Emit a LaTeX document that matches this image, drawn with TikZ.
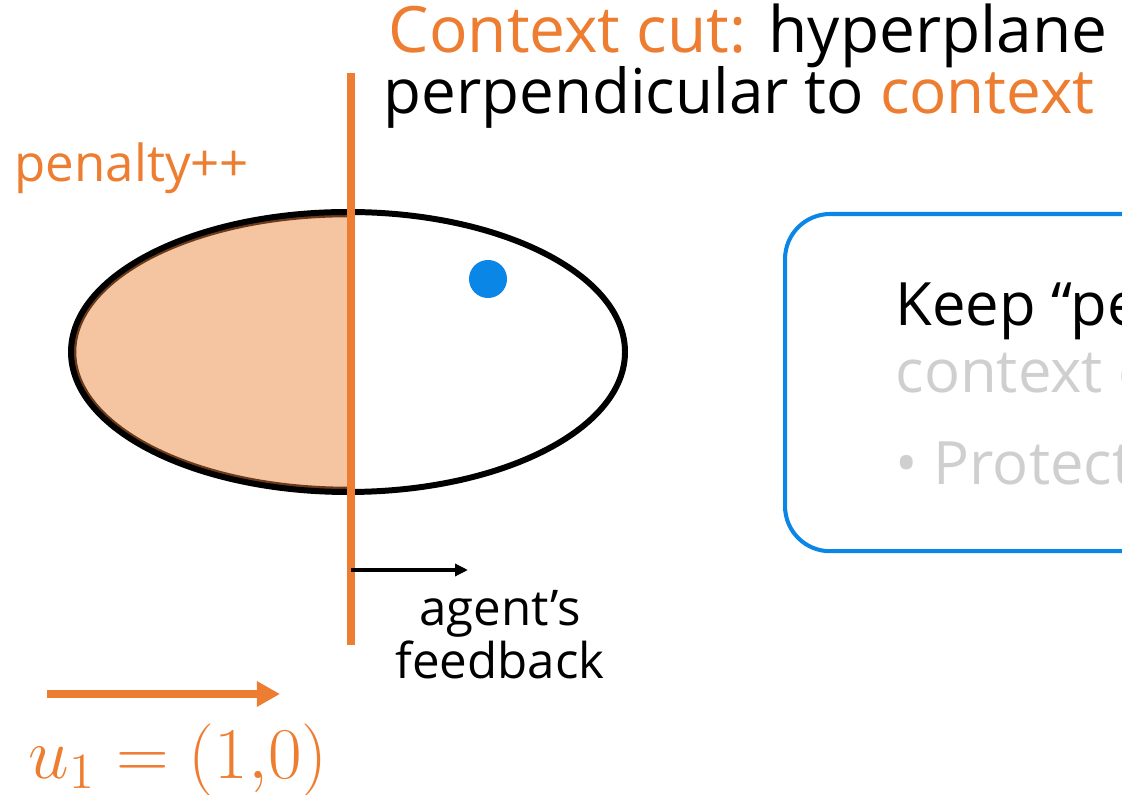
\documentclass[tikz,border=0pt]{standalone}
\usepackage{fontspec}
\setmainfont{Open Sans}
\usetikzlibrary{arrows.meta, positioning}
\definecolor{cutorange}{HTML}{ED7D31}
\definecolor{cutfill}{HTML}{F5C4A0}
\definecolor{cutbrown}{HTML}{6B3A1A}
\definecolor{dotblue}{HTML}{0A86E6}
\definecolor{fadegray}{HTML}{CFCFCF}
\tikzstyle{cutline} = [cutorange, line width=2.3pt]
\tikzstyle{region} = [black, line width=1.7pt]
\tikzstyle{keepbox} = [draw=dotblue, line width=1.15pt, rounded corners=0.45cm, minimum width=4.6cm, minimum height=3.37cm, inner sep=0]
\tikzstyle{label} = [inner sep=0, anchor=base west]
\tikzstyle{arrow} = [line width=1.1pt, -{Triangle[length=0.13cm, width=0.12cm]}]
\tikzstyle{uarrow} = [cutorange, line width=2.3pt, -{Triangle[length=0.23cm, width=0.24cm]}]
\begin{document}
\begin{tikzpicture}[x=0.01cm, y=-0.01cm]
\clip (0,0) rectangle (1122,795);
% shaded half of the region
\begin{scope}
\clip (0,0) rectangle (351,795);
\fill[cutfill] (348,352) ellipse [x radius=277, y radius=140];
\draw[cutbrown, line width=1.3pt] (348,352) ellipse [x radius=274, y radius=137];
\end{scope}
\draw[region] (348,352) ellipse [x radius=277, y radius=140];
\node (dot) [circle, fill=dotblue, minimum size=0.38cm, inner sep=0] at (488,279) {};
% the cut
\coordinate (cuttop) at (351,73);
\coordinate (cutbot) at (351,645);
\draw[cutline] (cuttop) -- (cutbot);
\coordinate (fbstart) at (351,570);
\coordinate (fbend) at (468,570);
\draw[arrow] (fbstart) -- (fbend);
\node (title1) [label, font=\fontsize{18.2pt}{20pt}\selectfont] at (388,53) {\textcolor{cutorange}{Context cut:} hyperplane};
\node (title2) [label, font=\fontsize{17.6pt}{20pt}\selectfont] at (383,114) {perpendicular to \textcolor{cutorange}{context}};
\node (penalty) [label, cutorange, font=\fontsize{14.5pt}{16pt}\selectfont] at (14,182) {penalty++};
\node (feedback) [inner sep=0, align=center, font=\fontsize{14pt}{13.7pt}\selectfont, anchor=north] at (500,590) {agent’s\\feedback};
% context direction
\coordinate (ustart) at (47,694);
\coordinate (uend) at (280,694);
\draw[uarrow] (ustart) -- (uend);
\node (ulabel) [label, cutorange, font=\fontsize{21pt}{23pt}\selectfont] at (28,778) {$u_1 = (1{,}0)$};
% box on the right
\node (keep) [keepbox, anchor=north west] at (783,212) {};
\node (keep1) [label, font=\fontsize{17pt}{20pt}\selectfont] at (895,326) {Keep “penalty”};
\node (keep2) [label, fadegray, font=\fontsize{17pt}{20pt}\selectfont] at (895,393) {context cuts};
\node (keep3) [label, fadegray, font=\fontsize{17pt}{20pt}\selectfont] at (895,485) {• Protect};
\end{tikzpicture}
\end{document}
